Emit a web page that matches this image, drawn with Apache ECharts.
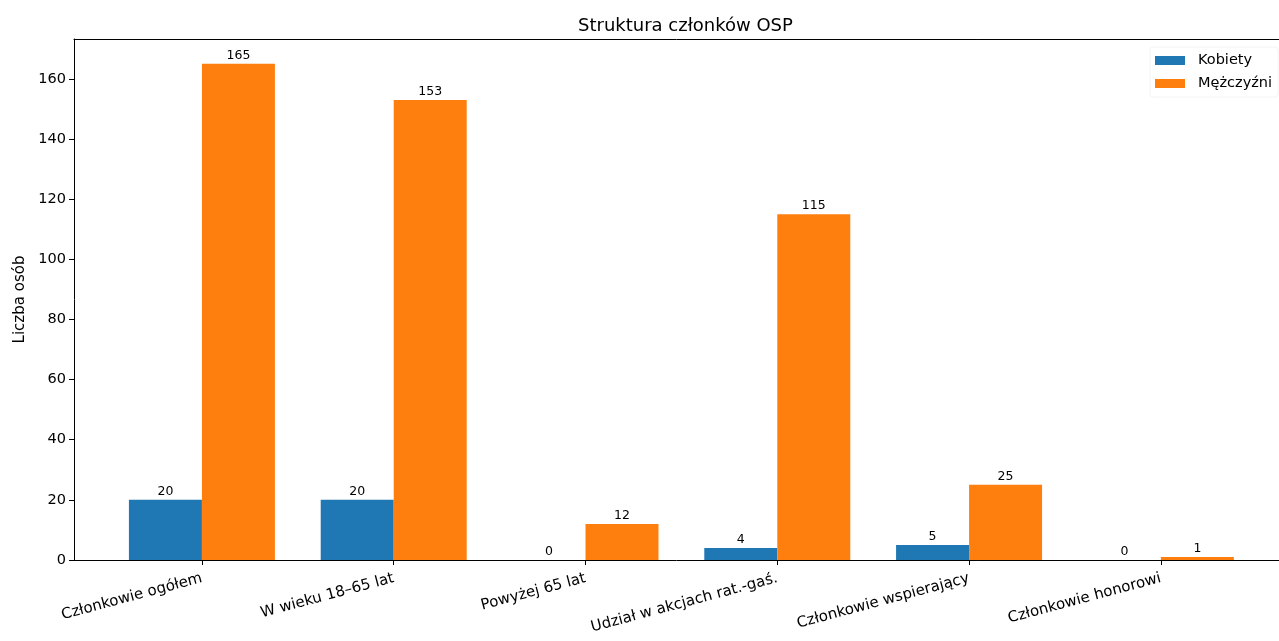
<!DOCTYPE html>
<html>
<head>
<meta charset="utf-8">
<script src="https://cdn.jsdelivr.net/npm/echarts@6/dist/echarts.min.js"></script>
<style>
html,body{margin:0;padding:0;background:#fff;}
#chart{width:1279px;height:641px;}
</style>
</head>
<body>
<div id="chart"></div>
<script>
const categories = ["Członkowie ogółem", "W wieku 18–65 lat", "Powyżej 65 lat", "Udział w akcjach rat.-gaś.", "Członkowie wspierający", "Członkowie honorowi"];
const kobiety = [20, 20, 0, 4, 5, 0];
const mezczyzni = [165, 153, 12, 115, 25, 1];
const yTicks = [0, 20, 40, 60, 80, 100, 120, 140, 160];
const xTicks = [0, 1, 2, 3, 4, 5];

const FONT = "DejaVu Sans";
const chart = echarts.init(document.getElementById('chart'), null, {renderer: 'canvas'});
const toPairs = arr => arr.map((v, i) => [i, v]);

chart.setOption({
  animation: false,
  backgroundColor: '#fff',
  textStyle: {fontFamily: FONT},
  title: {
    text: 'Struktura członków OSP',
    left: 573, top: 12,
    textStyle: {fontFamily: FONT, fontSize: 18, fontWeight: 'normal', color: '#000'}
  },
  legend: {
    orient: 'vertical',
    left: 1150, top: 47,
    padding: [5, 6, 5, 5],
    itemWidth: 30, itemHeight: 9, itemGap: 6,
    borderColor: '#f4f4f4', borderWidth: 1, borderRadius: 3,
    icon: 'rect',
    textStyle: {fontFamily: FONT, fontSize: 14.5, color: '#000', lineHeight: 17, padding: [0, 0, 0, 8]},
    data: ['Kobiety', 'Mężczyźni']
  },
  grid: {
    left: 74, top: 39, right: 0, height: 521,
    show: false
  },
  xAxis: [{
    type: 'value',
    min: -0.667, max: 5.616,
    splitLine: {show: false},
    axisLine: {show: true, onZero: false, lineStyle: {color: '#000', width: 1}},
    axisTick: {show: true, length: 5, lineStyle: {color: '#000'}, customValues: xTicks},
    axisLabel: {
      customValues: xTicks,
      rotate: 15, margin: 18,
      fontFamily: FONT, fontSize: 15, color: '#000',
      formatter: v => categories[Math.round(v)]
    }
  }, {
    type: 'value', position: 'top',
    min: -0.667, max: 5.616,
    splitLine: {show: false},
    axisLine: {show: true, onZero: false, lineStyle: {color: '#000', width: 1}},
    axisTick: {show: false},
    axisLabel: {show: false}
  }],
  yAxis: {
    type: 'value',
    min: 0, max: 173.25,
    name: 'Liczba osób', nameLocation: 'middle', nameGap: 44,
    nameTextStyle: {fontFamily: FONT, fontSize: 15, color: '#000'},
    splitLine: {show: false},
    axisLine: {show: true, onZero: false, lineStyle: {color: '#000', width: 1}},
    axisTick: {show: true, length: 5, lineStyle: {color: '#000'}, customValues: yTicks},
    axisLabel: {customValues: yTicks, margin: 8, fontFamily: FONT, fontSize: 14.5, color: '#000'}
  },
  series: [
    {
      name: 'Kobiety', type: 'bar', xAxisIndex: 0,
      data: toPairs(kobiety),
      barWidth: 73, barGap: '0%',
      itemStyle: {color: '#1f77b4'},
      label: {show: true, position: 'top', distance: 2, fontFamily: FONT, fontSize: 12.5, color: '#000'}
    },
    {
      name: 'Mężczyźni', type: 'bar', xAxisIndex: 0,
      data: toPairs(mezczyzni),
      barWidth: 73, barGap: '0%',
      itemStyle: {color: '#ff7f0e'},
      label: {show: true, position: 'top', distance: 2, fontFamily: FONT, fontSize: 12.5, color: '#000'}
    }
  ]
});
</script>
</body>
</html>
